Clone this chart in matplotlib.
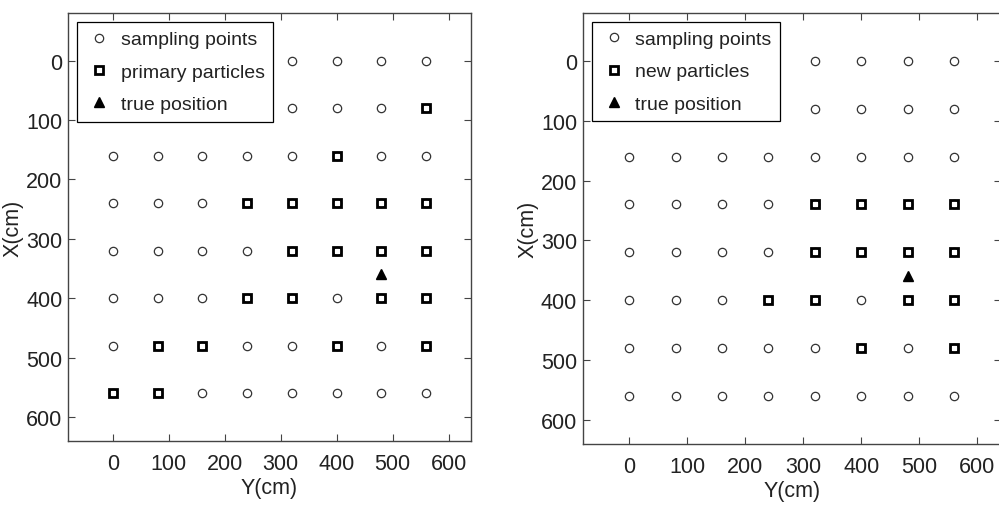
#!/usr/bin/env python3
"""Sampling grid with primary / new particles and the true position."""

import matplotlib
matplotlib.use("Agg")
import matplotlib.pyplot as plt

plt.rcParams['font.family'] = ['Liberation Sans', 'DejaVu Sans']

# sampling grid (cm)
grid_y = [0, 80, 160, 240, 320, 400, 480, 560]
grid_x = [0, 80, 160, 240, 320, 400, 480, 560]

# primary particles (left panel): Y, X
primary_y = [560, 400, 240, 320, 400, 480, 560, 320, 400, 480, 560,
             240, 320, 480, 560, 80, 160, 400, 560, 0, 80]
primary_x = [80, 160, 240, 240, 240, 240, 240, 320, 320, 320, 320,
             400, 400, 400, 400, 480, 480, 480, 480, 560, 560]

# new particles (right panel): Y, X
new_y = [320, 400, 480, 560, 320, 400, 480, 560, 240, 320, 480, 560, 400, 560]
new_x = [240, 240, 240, 240, 320, 320, 320, 320, 400, 400, 400, 400, 480, 480]

true_y = [480]
true_x = [360]

ticks = [0, 100, 200, 300, 400, 500, 600]
panels = [
    ("primary particles", primary_y, primary_x, [0.0681, 0.127, 0.4034, 0.845]),
    ("new particles", new_y, new_x, [0.5833, 0.1206, 0.4184, 0.852]),
]

fig = plt.figure(figsize=(9.99, 5.06), dpi=100)

for label, py, px, pos in panels:
    ax = fig.add_axes(pos)
    sy = [y for x in grid_x for y in grid_y]
    sx = [x for x in grid_x for y in grid_y]
    ax.plot(sy, sx, 'o', ls='none', ms=6, mfc='none', mec='#333333', mew=0.9,
            label='sampling points')
    ax.plot(py, px, 's', ls='none', ms=6, mfc='none', mec='black', mew=2.0,
            label=label)
    ax.plot(true_y, true_x, '^', ls='none', ms=7, color='black', label='true position')

    ax.set_xlim(-80, 640)
    ax.set_ylim(640, -80)
    ax.set_xticks(ticks)
    ax.set_yticks(ticks)
    ax.tick_params(direction='in', length=5, width=0.8, top=True, right=True,
                   labelsize=15.5, color='#444444', labelcolor='#222222')
    ax.tick_params(axis='x', pad=9)
    ax.tick_params(axis='y', pad=4)
    for s in ax.spines.values():
        s.set_color('#444444')
        s.set_linewidth(1.0)
    ax.set_xlabel('Y(cm)', fontsize=15.5, labelpad=2, color='#222222')
    ax.set_ylabel('X(cm)', fontsize=15.5, labelpad=2, color='#222222')

    leg = ax.legend(loc='upper left', fontsize=14, frameon=True, fancybox=False,
                    edgecolor='black', framealpha=1, borderaxespad=0.46,
                    labelspacing=0.75, handletextpad=0.4, handlelength=1.4,
                    borderpad=0.45, numpoints=1)
    leg.get_frame().set_linewidth(0.9)
    for t in leg.get_texts():
        t.set_color('#222222')

fig.savefig('out.png', dpi=100)
